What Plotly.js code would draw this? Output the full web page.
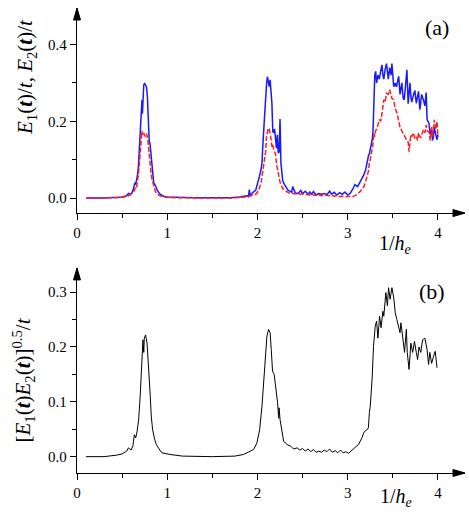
<!DOCTYPE html>
<html>
<head>
<meta charset="utf-8">
<script src="https://cdn.plot.ly/plotly-3.0.1.min.js"></script>
<style>
  html, body { margin: 0; padding: 0; background: #fff; }
  #chart { width: 469px; height: 522px; }
</style>
</head>
<body>
<div id="chart"></div>
<script>
// panel (a): E1(t)/t (blue) and E2(t)/t (red, dashed) against 1/h_e
var xA = [0.10, 0.30, 0.45, 0.50, 0.55, 0.57, 0.59, 0.61, 0.63, 0.64, 0.65, 0.66, 0.67, 0.68, 0.69,
  0.70, 0.71, 0.72, 0.725, 0.73, 0.74, 0.75, 0.76, 0.77, 0.78, 0.79, 0.80, 0.81, 0.82, 0.83,
  0.84, 0.85, 0.87, 0.89, 0.92, 0.96, 1.00, 1.10, 1.30, 1.50, 1.70, 1.80, 1.85, 1.88, 1.90,
  1.91, 1.92, 1.95, 1.98, 2.00, 2.02, 2.04, 2.05, 2.06, 2.07, 2.08, 2.09, 2.10, 2.11, 2.12,
  2.13, 2.14, 2.15, 2.16, 2.17, 2.18, 2.19, 2.20, 2.21, 2.22, 2.23, 2.24, 2.25, 2.26, 2.27,
  2.28, 2.30, 2.32, 2.34, 2.36, 2.38, 2.39, 2.42, 2.45, 2.48, 2.50, 2.53, 2.56, 2.58, 2.60,
  2.62, 2.65, 2.68, 2.71, 2.74, 2.77, 2.80, 2.82, 2.85, 2.88, 2.91, 2.94, 2.97, 3.00, 3.03,
  3.06, 3.08, 3.11, 3.14, 3.16, 3.18, 3.20, 3.21, 3.23, 3.24, 3.25, 3.27, 3.28, 3.29, 3.30,
  3.31, 3.32, 3.335, 3.35, 3.365, 3.38, 3.39, 3.40, 3.415, 3.43, 3.45, 3.465, 3.48, 3.49, 3.51,
  3.525, 3.54, 3.55, 3.565, 3.58, 3.60, 3.615, 3.627, 3.64, 3.656, 3.67, 3.68, 3.69, 3.70, 3.71,
  3.73, 3.745, 3.76, 3.775, 3.785, 3.80, 3.81, 3.82, 3.84, 3.855, 3.87, 3.88, 3.90, 3.915, 3.93,
  3.94, 3.95, 3.96, 3.97, 3.98, 3.99, 4.00];

var blueA = [0.000, 0.000, 0.002, 0.003, 0.006, 0.012, 0.010, 0.014, 0.028, 0.040, 0.035, 0.045, 0.060, 0.080, 0.120,
  0.150, 0.190, 0.255, 0.220, 0.260, 0.295, 0.298, 0.295, 0.290, 0.265, 0.205, 0.150, 0.140, 0.115, 0.075,
  0.060, 0.040, 0.032, 0.020, 0.010, 0.005, 0.003, 0.002, 0.001, 0.001, 0.001, 0.003, 0.004, 0.006, 0.004,
  0.022, 0.006, 0.015, 0.020, 0.035, 0.055, 0.075, 0.092, 0.140, 0.180, 0.213, 0.270, 0.295, 0.316, 0.305,
  0.290, 0.308, 0.280, 0.247, 0.173, 0.170, 0.180, 0.150, 0.130, 0.165, 0.117, 0.120, 0.206, 0.091, 0.056,
  0.045, 0.035, 0.028, 0.020, 0.018, 0.015, 0.030, 0.013, 0.012, 0.020, 0.012, 0.018, 0.010, 0.016, 0.010,
  0.017, 0.008, 0.012, 0.010, 0.012, 0.009, 0.018, 0.010, 0.015, 0.008, 0.014, 0.010, 0.016, 0.008, 0.013,
  0.025, 0.035, 0.030, 0.043, 0.050, 0.061, 0.075, 0.090, 0.110, 0.115, 0.125, 0.150, 0.170, 0.239, 0.320,
  0.330, 0.300, 0.320, 0.310, 0.330, 0.347, 0.320, 0.310, 0.335, 0.350, 0.310, 0.340, 0.320, 0.350, 0.290,
  0.300, 0.290, 0.300, 0.317, 0.270, 0.300, 0.260, 0.256, 0.290, 0.334, 0.246, 0.280, 0.300, 0.265, 0.250,
  0.270, 0.280, 0.247, 0.265, 0.278, 0.230, 0.250, 0.270, 0.255, 0.240, 0.275, 0.204, 0.195, 0.165, 0.180,
  0.150, 0.160, 0.185, 0.172, 0.160, 0.152, 0.165];

var redA = [0.000, 0.000, 0.001, 0.002, 0.004, 0.006, 0.008, 0.012, 0.018, 0.022, 0.030, 0.028, 0.040, 0.060, 0.085,
  0.110, 0.150, 0.175, 0.165, 0.170, 0.168, 0.165, 0.160, 0.168, 0.160, 0.140, 0.108, 0.085, 0.066, 0.050,
  0.040, 0.030, 0.016, 0.010, 0.006, 0.004, 0.002, 0.001, 0.000, 0.000, 0.000, 0.001, 0.002, 0.003, 0.004,
  0.005, 0.006, 0.008, 0.010, 0.015, 0.025, 0.040, 0.055, 0.070, 0.090, 0.110, 0.120, 0.160, 0.175, 0.182,
  0.180, 0.170, 0.155, 0.134, 0.140, 0.125, 0.120, 0.115, 0.090, 0.075, 0.060, 0.050, 0.042, 0.035, 0.030,
  0.025, 0.020, 0.017, 0.014, 0.012, 0.012, 0.012, 0.011, 0.010, 0.010, 0.011, 0.009, 0.010, 0.008, 0.012,
  0.008, 0.007, 0.008, 0.006, 0.008, 0.007, 0.006, 0.008, 0.005, 0.006, 0.004, 0.005, 0.003, 0.004, 0.005,
  0.004, 0.006, 0.010, 0.018, 0.025, 0.030, 0.045, 0.052, 0.070, 0.091, 0.100, 0.126, 0.140, 0.169, 0.160,
  0.175, 0.180, 0.190, 0.204, 0.200, 0.220, 0.240, 0.256, 0.250, 0.273, 0.270, 0.282, 0.270, 0.260, 0.256,
  0.234, 0.225, 0.220, 0.200, 0.185, 0.175, 0.168, 0.160, 0.156, 0.150, 0.146, 0.121, 0.145, 0.165, 0.160,
  0.170, 0.155, 0.160, 0.150, 0.170, 0.160, 0.157, 0.165, 0.178, 0.170, 0.190, 0.175, 0.172, 0.150, 0.185,
  0.160, 0.180, 0.204, 0.190, 0.180, 0.200, 0.160];

// panel (b): [E1(t)E2(t)]^0.5/t
var xB = [0.10, 0.30, 0.45, 0.50, 0.55, 0.57, 0.60, 0.62, 0.635, 0.65, 0.665, 0.683, 0.70, 0.712, 0.723,
  0.731, 0.74, 0.746, 0.76, 0.776, 0.79, 0.80, 0.805, 0.812, 0.823, 0.838, 0.86, 0.879, 0.91, 0.94,
  1.03, 1.17, 1.50, 1.75, 1.846, 1.90, 1.957, 1.994, 2.024, 2.05, 2.068, 2.087, 2.105, 2.123, 2.14,
  2.153, 2.167, 2.185, 2.205, 2.215, 2.223, 2.235, 2.24, 2.25, 2.27, 2.29, 2.33, 2.37, 2.40, 2.44,
  2.47, 2.50, 2.53, 2.56, 2.59, 2.62, 2.65, 2.68, 2.71, 2.74, 2.77, 2.80, 2.83, 2.86, 2.89,
  2.92, 2.95, 2.98, 3.01, 3.04, 3.07, 3.09, 3.12, 3.14, 3.16, 3.176, 3.20, 3.22, 3.23, 3.24,
  3.25, 3.27, 3.286, 3.305, 3.32, 3.335, 3.353, 3.37, 3.39, 3.40, 3.423, 3.44, 3.453, 3.47, 3.49,
  3.51, 3.527, 3.545, 3.56, 3.58, 3.59, 3.61, 3.63, 3.65, 3.66, 3.68, 3.70, 3.72, 3.74, 3.76,
  3.775, 3.79, 3.81, 3.83, 3.855, 3.88, 3.896, 3.91, 3.93, 3.95, 3.97, 3.99];

var blackB = [0.000, 0.000, 0.003, 0.005, 0.010, 0.016, 0.012, 0.020, 0.040, 0.034, 0.045, 0.067, 0.110, 0.159, 0.189,
  0.213, 0.190, 0.216, 0.222, 0.207, 0.171, 0.130, 0.115, 0.110, 0.074, 0.049, 0.032, 0.022, 0.014, 0.007,
  0.004, 0.001, 0.000, 0.001, 0.004, 0.008, 0.013, 0.025, 0.049, 0.092, 0.140, 0.189, 0.220, 0.232, 0.226,
  0.195, 0.156, 0.150, 0.122, 0.110, 0.098, 0.070, 0.089, 0.068, 0.043, 0.028, 0.022, 0.019, 0.014, 0.016,
  0.012, 0.015, 0.010, 0.014, 0.009, 0.013, 0.008, 0.010, 0.008, 0.012, 0.009, 0.014, 0.008, 0.011, 0.007,
  0.012, 0.007, 0.009, 0.006, 0.011, 0.015, 0.018, 0.022, 0.028, 0.035, 0.043, 0.048, 0.050, 0.053, 0.080,
  0.092, 0.140, 0.201, 0.238, 0.247, 0.216, 0.256, 0.235, 0.265, 0.256, 0.299, 0.275, 0.308, 0.287, 0.308,
  0.290, 0.262, 0.250, 0.238, 0.226, 0.244, 0.213, 0.190, 0.232, 0.190, 0.159, 0.207, 0.190, 0.210, 0.190,
  0.177, 0.200, 0.190, 0.213, 0.216, 0.195, 0.168, 0.190, 0.170, 0.182, 0.192, 0.162];

var serif = '"Liberation Serif", "Times New Roman", Times, serif';
var tickFont = {family: serif, size: 15, color: '#000'};
var xTop = 4.3;

var traces = [
  {x: xA, y: blueA, type: 'scatter', mode: 'lines', xaxis: 'x', yaxis: 'y',
   line: {color: 'rgb(25,25,255)', width: 1.5}, hoverinfo: 'skip'},
  {x: xA, y: redA, type: 'scatter', mode: 'lines', xaxis: 'x', yaxis: 'y',
   line: {color: 'rgb(255,30,30)', width: 1.5, dash: '5px,2px'}, hoverinfo: 'skip'},
  {x: xB, y: blackB, type: 'scatter', mode: 'lines', xaxis: 'x2', yaxis: 'y2',
   line: {color: '#000', width: 1}, hoverinfo: 'skip'}
];

function xAxis(anchor) {
  return {
    anchor: anchor, domain: [0, 1], range: [0, xTop],
    showline: true, linecolor: '#000', linewidth: 1.2, zeroline: false, showgrid: false,
    ticks: 'outside', ticklen: 6, tickwidth: 1, tickcolor: '#000',
    tickmode: 'array', tickvals: [0, 1, 2, 3, 4], ticktext: ['0', '1', '2', '3', '4'],
    minor: {tickmode: 'array', tickvals: [0.5, 1.5, 2.5, 3.5], ticks: 'outside', ticklen: 4, tickcolor: '#000'},
    tickfont: tickFont
  };
}

function yAxis(anchor, dom, rng, major, minor) {
  return {
    anchor: anchor, domain: dom, range: rng,
    showline: true, linecolor: '#000', linewidth: 1.2, zeroline: false, showgrid: false,
    ticks: 'outside', ticklen: 6, tickwidth: 1, tickcolor: '#000',
    tickmode: 'array', tickvals: major, ticktext: major.map(function(v) { return v.toFixed(1); }),
    minor: {tickmode: 'array', tickvals: minor, ticks: 'outside', ticklen: 4, tickcolor: '#000'},
    tickfont: tickFont
  };
}

// filled arrow heads at the axis ends, sized in pixels around a paper anchor
function head(x, y, path) {
  return {type: 'path', xref: 'paper', yref: 'paper', xsizemode: 'pixel', ysizemode: 'pixel',
          xanchor: x, yanchor: y, path: path, fillcolor: '#000', line: {color: '#000', width: 1}};
}
var rightHead = 'M0,0 L-12,3.5 L-12,-3.5 Z';
var upHead = 'M0,0 L-3.5,-12 L3.5,-12 Z';

function label(x, y, text, size, angle) {
  return {xref: 'paper', yref: 'paper', x: x, y: y, xanchor: 'center', yanchor: 'middle',
          text: text, showarrow: false, textangle: angle || 0,
          font: {family: serif, size: size, color: '#000'}};
}

var topDom = [0.559, 1];
var botDom = [0, 0.441];

var layout = {
  width: 469, height: 522,
  margin: {l: 77, r: 4, t: 8, b: 49},
  paper_bgcolor: '#fff', plot_bgcolor: '#fff',
  showlegend: false,
  xaxis: xAxis('y'),
  yaxis: yAxis('x', topDom, [-0.039, 0.495], [0, 0.2, 0.4], [0.1, 0.3]),
  xaxis2: xAxis('y2'),
  yaxis2: yAxis('x2', botDom, [-0.0298, 0.344], [0, 0.1, 0.2, 0.3], [0.05, 0.15, 0.25]),
  shapes: [
    head(1, topDom[0], rightHead),
    head(0, topDom[1], upHead),
    head(1, botDom[0], rightHead),
    head(0, botDom[1], upHead)
  ],
  annotations: [
    label(0.928, 0.958, '(a)', 22),
    label(0.915, 0.390, '(b)', 22),
    label(0.820, 0.491, '1/<i>h</i><sub><i>e</i></sub>', 20),
    label(0.822, -0.053, '1/<i>h</i><sub><i>e</i></sub>', 20),
    label(-0.131, 0.852, '<i>E</i><sub>1</sub>(<i><b>t</b></i>)/<i>t</i>, <i>E</i><sub>2</sub>(<i><b>t</b></i>)/<i>t</i>', 21, -90),
    label(-0.139, 0.199, '[<i>E</i><sub>1</sub>(<i><b>t</b></i>)<i>E</i><sub>2</sub>(<i><b>t</b></i>)]<sup>0.5</sup>/<i>t</i>', 21, -90)
  ]
};

Plotly.newPlot('chart', traces, layout, {displayModeBar: false, staticPlot: true});
</script>
</body>
</html>
